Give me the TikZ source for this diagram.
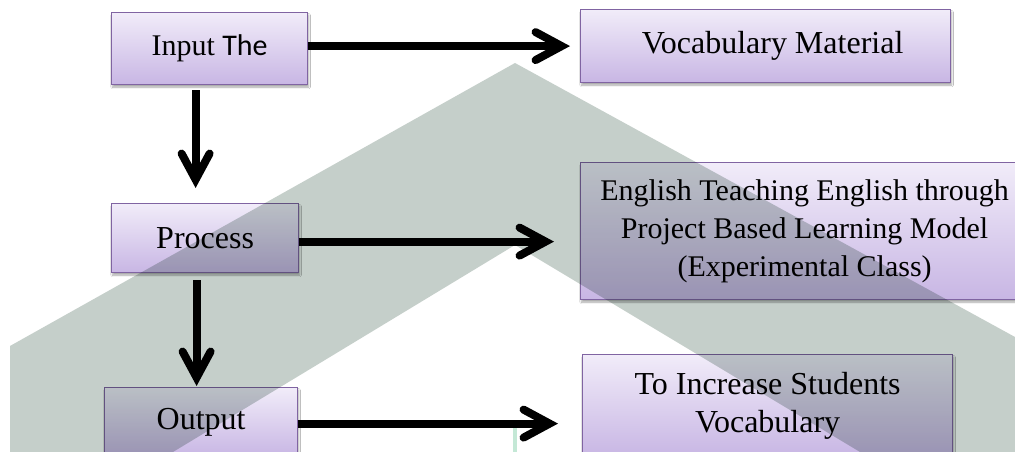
\documentclass[tikz,border=0pt]{standalone}
\usepackage{fontspec}
\setmainfont{Liberation Serif}
\newfontfamily\calibrifont{Carlito}
\usetikzlibrary{arrows.meta,shadows.blur}
\definecolor{boxtop}{RGB}{241,236,249}
\definecolor{boxbot}{RGB}{200,182,228}
\definecolor{boxline}{RGB}{128,100,162}
\definecolor{wmgrey}{RGB}{197,207,202}
\definecolor{wmteal}{RGB}{196,232,214}
\tikzset{
  flowbox/.style={draw=boxline, line width=1.2pt, top color=boxtop, bottom color=boxbot,
    anchor=north west, inner sep=0pt, align=center,
    font=\fontsize{32}{38}\selectfont,
    blur shadow={shadow xshift=1pt, shadow yshift=-2.5pt, shadow opacity=35, shadow blur steps=6}},
  smalltext/.style={font=\fontsize{30}{38}\selectfont},
  arr/.style={line width=8pt, draw=black,
    -{Straight Barb[length=26pt,width=28pt,line cap=round,line join=miter]}},
}
\begin{document}
\begin{tikzpicture}[x=1pt,y=-1pt]
\useasboundingbox (0,0) rectangle (1015,452);
\fill[white] (0,0) rectangle (1015,452);
% boxes
\node[flowbox, smalltext, minimum width=196pt, minimum height=72pt] (input) at (111,12) {Input {\calibrifont The}};
\node[flowbox, minimum width=370pt, minimum height=73pt] (vocab) at (580,9) {\hspace*{14pt}Vocabulary Material};
\node[flowbox, minimum width=187pt, minimum height=69pt] (process) at (111,203) {Process};
\node[flowbox, smalltext, minimum width=448pt, minimum height=137pt] (teach) at (580,162) {English Teaching English through\\Project Based Learning Model\\(Experimental Class)};
\node[flowbox, minimum width=193pt, minimum height=69pt] (output) at (104,387) {Output};
\node[flowbox, minimum width=370pt, minimum height=102pt] (incr) at (582,354) {To Increase Students\\Vocabulary};
% thin mark
\fill[wmteal] (513,424) rectangle (517,452);
% connectors
\draw[arr, shorten >=10pt] ([yshift=2.5pt]input.east) -- ([yshift=2.5pt]input.east -| vocab.west);
\draw[arr, shorten <=5pt, shorten >=15pt] ([xshift=-14pt]input.south) -- ([xshift=-14pt]input.south |- process.north);
\draw[arr, shorten >=26pt] ([yshift=-3.5pt]process.east) -- ([yshift=-3.5pt]process.east -| teach.west);
\draw[arr, shorten <=7pt, shorten >=1pt] ([xshift=-8.5pt]process.south) -- ([xshift=-8.5pt]process.south |- output.north);
\draw[arr, shorten >=24pt] ([yshift=-1.5pt]output.east) -- ([yshift=-1.5pt]output.east -| incr.west);
% watermark
\begin{scope}[blend mode=multiply]
\fill[wmgrey] (10,452) -- (10,346) -- (515,63) -- (1015,337) -- (1015,452) -- (860,452) -- (515,245) -- (173,452) -- cycle;
\end{scope}
\end{tikzpicture}
\end{document}
